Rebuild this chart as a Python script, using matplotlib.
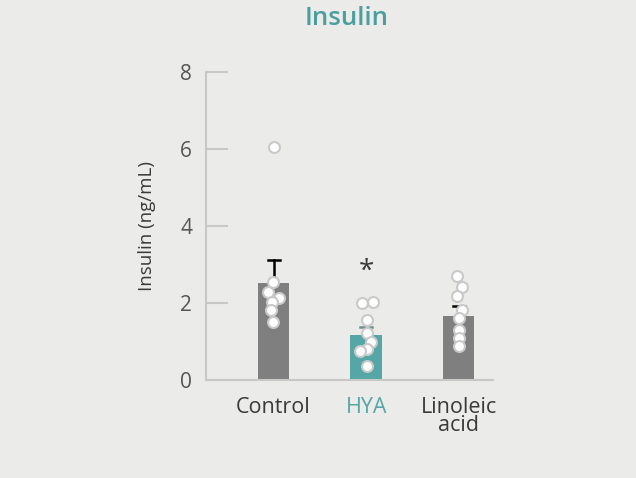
import matplotlib
matplotlib.use("Agg")
import matplotlib.pyplot as plt
import numpy as np

groups = ["Control", "HYA", "Linoleic\nacid"]
means = [2.52, 1.17, 1.66]
err_top = [3.12, 1.38, 1.92]
ctrl_pts = [6.05, 2.55, 2.28, 2.14, 2.03, 1.82, 1.51]
ctrl_dx = [0.0, -0.01, -0.06, 0.06, -0.02, -0.03, -0.01]
hya_pts = [1.99, 2.03, 1.56, 1.21, 1.00, 0.80, 0.75, 0.36]
hya_dx = [-0.04, 0.07, 0.01, 0.01, 0.05, 0.01, -0.07, 0.01]
lin_pts = [2.71, 2.41, 2.19, 1.82, 1.60, 1.30, 1.08, 0.88]
lin_dx = [-0.02, 0.03, -0.02, 0.03, 0.0, 0.0, 0.0, 0.0]

bg = "#ebebe9"
teal = "#55a6a6"
gray_bar = "#7f7f7f"
axis_c = "#c8c8c6"
txt = "#3a3a3a"

plt.rcParams['font.family'] = ['Open Sans', 'DejaVu Sans']

fig = plt.figure(figsize=(6.36, 4.78), dpi=100, facecolor=bg)
ax = fig.add_axes([206/636, 1-380/478, (493-206)/636, (380-72)/478])
ax.set_facecolor(bg)

x = np.arange(3)
colors = [gray_bar, teal, gray_bar]
ax.bar(x, means, width=0.34, color=colors, zorder=2)

# error bars (upper only)
for xi, m, t, c in zip(x, means, err_top, ["black", "#6f8f8f", "black"]):
    ax.plot([xi, xi], [m, t], color=c, lw=1.8, zorder=3)
    ax.plot([xi - 0.065, xi + 0.065], [t, t], color=c, lw=1.8, zorder=3)

for xi, pts, dx in zip(x, [ctrl_pts, hya_pts, lin_pts], [ctrl_dx, hya_dx, lin_dx]):
    ax.scatter(xi + np.array(dx), pts, s=62, facecolor="white",
               edgecolor="#c9c9c9", linewidth=1.5, zorder=4)

ax.text(1, 2.8, "*", ha="center", va="center", fontsize=20, color=txt)

ax.set_ylim(0, 8)
ax.set_xlim(-0.73, 2.37)
ax.set_yticks([0, 2, 4, 6, 8])
ax.set_xticks(x)
ax.set_xticklabels(groups)
for lbl, c in zip(ax.get_xticklabels(), [txt, teal, txt]):
    lbl.set_color(c)
    lbl.set_linespacing(0.85)

for s in ["top", "right"]:
    ax.spines[s].set_visible(False)
for s in ["left", "bottom"]:
    ax.spines[s].set_color(axis_c)
    ax.spines[s].set_linewidth(1.5)

ax.tick_params(axis="y", direction="in", length=16, width=1.5, color=axis_c,
               labelsize=15, labelcolor="#555555", pad=10)
ax.tick_params(axis="x", length=0, labelsize=15.5, pad=12)

ax.set_ylabel("Insulin (ng/mL)", fontsize=13.5, color=txt, labelpad=17)
fig.text(0.545, 0.962, "Insulin", ha="center", va="center", fontsize=18.5,
         fontweight="semibold", color="#4a9e9e")

fig.savefig("out.png", dpi=100, facecolor=bg)
